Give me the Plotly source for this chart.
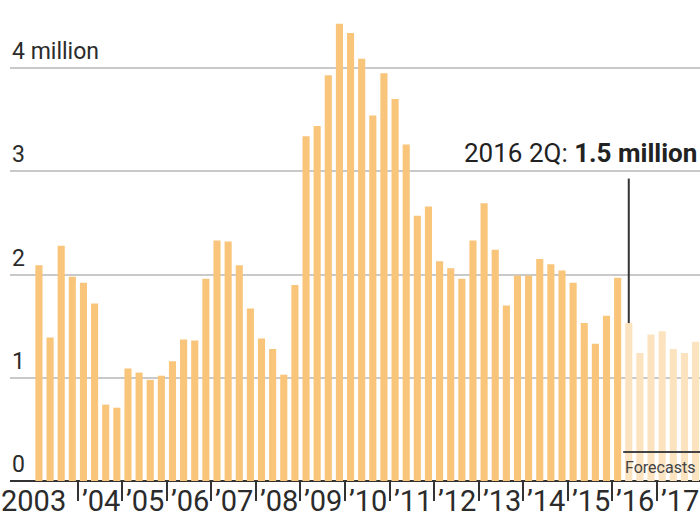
import plotly.graph_objects as go

# Quarterly values, 2003 Q1 to 2017 Q4 (millions); last 7 are forecasts
years = list(range(2003, 2018))
actual = [
    2.09, 1.39, 2.28, 1.98,   # 2003
    1.92, 1.72, 0.74, 0.71,   # 2004
    1.09, 1.05, 0.98, 1.02,   # 2005
    1.16, 1.37, 1.36, 1.96,   # 2006
    2.33, 2.32, 2.09, 1.67,   # 2007
    1.38, 1.28, 1.03, 1.90,   # 2008
    3.34, 3.44, 3.93, 4.43,   # 2009
    4.34, 4.09, 3.54, 3.95,   # 2010
    3.70, 3.26, 2.57, 2.66,   # 2011
    2.13, 2.06, 1.96, 2.33,   # 2012
    2.69, 2.24, 1.70, 1.99,   # 2013
    1.99, 2.15, 2.10, 2.04,   # 2014
    1.92, 1.53, 1.33, 1.60,   # 2015
    1.97,                     # 2016 Q1
]
forecast = [1.53, 1.24, 1.42, 1.45, 1.28, 1.24, 1.35]
y_ticks = [0, 1, 2, 3, 4]
y_tick_labels = ["0", "1", "2", "3", "4 million"]
callout_text = "2016 2Q: <b>1.5 million</b>"

font = "Roboto"
text_color = "#2b2b2b"

n_act = len(actual)
x_act = list(range(n_act))
x_fc = list(range(n_act, n_act + len(forecast)))
n_all = n_act + len(forecast)

fig = go.Figure()
fig.add_trace(go.Bar(x=x_act, y=actual, marker=dict(color="#f8c57b", line_width=0)))
fig.add_trace(go.Bar(x=x_fc, y=forecast, marker=dict(color="#fbe3bf", line_width=0)))

annotations = []
# y labels sit above the gridlines, at the left end
for v, lab in zip(y_ticks, y_tick_labels):
    annotations.append(dict(
        x=0, xref="paper", y=v, yref="y", text=lab, showarrow=False,
        xanchor="left", yanchor="bottom", yshift=1,
        font=dict(family=font, size=23, color=text_color),
    ))

# year labels just right of each year-boundary tick
for i, yr in enumerate(years):
    if i == 0:
        annotations.append(dict(
            x=0, xref="paper", y=0, yref="paper", text=str(yr), showarrow=False,
            xanchor="left", yanchor="top", xshift=-11, yshift=-1,
            font=dict(family=font, size=29, color=text_color),
        ))
    else:
        annotations.append(dict(
            x=4 * i - 0.5, y=0, yref="paper", text="\u2019" + str(yr)[2:],
            showarrow=False, xanchor="left", yanchor="top", xshift=2, yshift=-1,
            font=dict(family=font, size=29, color=text_color),
        ))

# callout for 2016 Q2
callout_idx = n_act
annotations.append(dict(
    x=1, xref="paper", y=3.18, yref="y", text=callout_text, showarrow=False,
    xanchor="right", yanchor="middle", xshift=-1,
    font=dict(family=font, size=26, color="#222222"),
))
annotations.append(dict(
    x=n_act - 0.5, y=0.135, text="Forecasts", showarrow=False,
    xanchor="left", yanchor="middle",
    font=dict(family=font, size=16, color="#444444"),
))

shapes = [
    dict(type="line", x0=callout_idx, x1=callout_idx, y0=forecast[0], y1=2.93,
         line=dict(color="#333333", width=2)),
    dict(type="line", x0=n_act - 0.5, x1=n_all + 0.5, y0=0.28, y1=0.28,
         line=dict(color="#444444", width=2)),
]

fig.update_layout(
    width=700, height=519,
    paper_bgcolor="white", plot_bgcolor="white",
    margin=dict(l=10, r=0, t=0, b=38),
    bargap=0.36,
    showlegend=False,
    annotations=annotations,
    shapes=shapes,
    xaxis=dict(
        range=[-2.6, n_all - 0.6],
        tickvals=[4 * i - 0.5 for i in range(1, len(years))],
        showticklabels=False, ticks="outside", ticklen=19, tickwidth=2,
        tickcolor="#333333", showgrid=False, zeroline=False, showline=False,
        fixedrange=True,
    ),
    yaxis=dict(
        range=[0, 4.66], tickvals=y_ticks[1:], showticklabels=False,
        showgrid=True, gridcolor="#c9c9c9", gridwidth=2,
        zeroline=True, zerolinecolor="#333333", zerolinewidth=2,
        fixedrange=True,
    ),
)

# drop the default page margin so the 700x519 figure fills the window
fig.write_html(
    "out.html",
    config={"displayModeBar": False},
    post_script="document.body.style.margin='0';",
)
